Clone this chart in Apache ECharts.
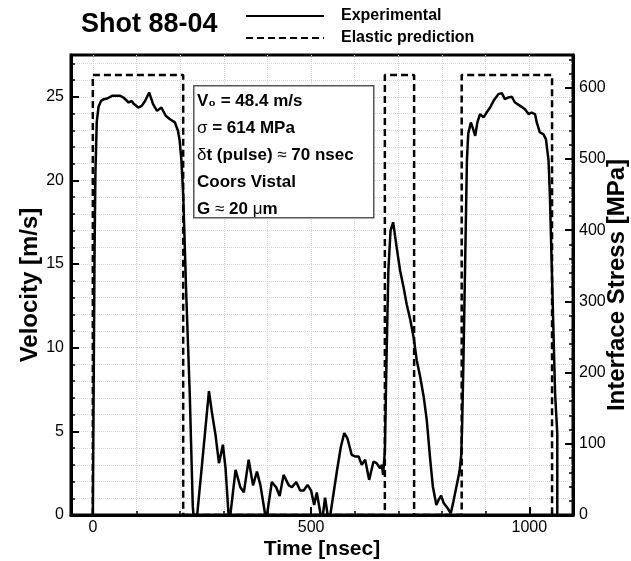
<!DOCTYPE html>
<html>
<head>
<meta charset="utf-8">
<title>Shot 88-04</title>
<script src="https://cdn.jsdelivr.net/npm/echarts@6/dist/echarts.min.js"></script>
<style>
  html, body { margin: 0; padding: 0; background: #fff; }
  #chart { width: 631px; height: 561px; }
</style>
</head>
<body>
<div id="chart"></div>
<script>
const FONT = '"Liberation Sans", Arial, sans-serif'

// measured trace: time [nsec] and particle velocity [m/s]
const expTime = [
  0, 2, 4, 6, 9, 13, 19, 25, 33, 44, 63, 70, 82, 89, 93, 104, 112, 120, 129, 138,
  147, 157, 167, 176, 188, 195, 199, 203, 207, 214, 222, 229, 234, 239, 253, 266, 273, 281, 289, 298,
  304, 311, 313, 315, 327, 338, 346, 357, 367, 376, 384, 395, 397, 399, 410, 420, 428, 437, 449, 456,
  466, 475, 483, 492, 500, 507, 513, 522, 527, 532, 538, 541, 544, 559, 568, 576, 583, 593, 601, 609,
  616, 624, 633, 643, 650, 658, 662, 665, 669, 673, 677, 682, 688, 696, 704, 712, 719, 727, 735, 742,
  750, 758, 765, 773, 779, 787, 792, 798, 804, 813, 820, 826, 833, 840, 844, 846, 849, 853, 857, 860,
  866, 870, 876, 881, 887, 895, 902, 910, 918, 929, 937, 944, 952, 960, 967, 979, 990, 998, 1005, 1013,
  1017, 1024, 1032, 1038, 1044, 1047, 1051, 1055, 1059, 1064, 1064
]
const expVelocity = [
  0, 8, 16, 20.5, 23.5, 24.4, 24.76, 24.86, 24.9, 25.06, 25.06, 24.96, 24.66, 24.76, 24.6, 24.36, 24.46, 24.76, 25.26, 24.56,
  24.16, 24.36, 23.87, 23.67, 23.47, 22.97, 22.37, 21.18, 19.19, 13.2, 7.26, 0.5, -1, 0, 3.8, 7.4, 6.1, 4.8, 3.1, 4.2,
  2.8, 0, -0.5, 0, 2.7, 1.66, 1.35, 3.3, 1.77, 2.6, 1.77, 0, -0.3, 0, 1.97, 1.66, 1.14, 2.4, 1.77, 1.66,
  1.97, 1.46, 1.46, 1.8, 1.46, 0.6, 1.35, 0, 0, 1.04, 0, -0.3, 0, 2.6, 4.05, 4.9, 4.6, 3.6, 3.5, 3.5,
  3.0, 3.3, 2.1, 3.2, 3.1, 2.8, 3.0, 2.4, 3.8, 9.6, 14.6, 17.0, 17.5, 16.0, 14.6, 13.6, 12.6, 11.7, 10.6, 9.25,
  8.25, 7.06, 5.67, 3.28, 1.69, 0.6, 0.9, 1.15, 0.7, 0.4, 0.1, 0.8, 1.7, 2.6, 3.6, 5.3, 9.2, 15.2, 21.2, 22.8,
  23.47, 23.17, 22.67, 23.47, 23.97, 23.77, 24.06, 24.36, 24.76, 25.16, 25.22, 24.86, 24.96, 25.0, 24.66, 24.46, 24.26, 23.97, 24.06, 23.97,
  23.47, 22.87, 22.77, 22.47, 21.18, 19.19, 15.2, 11.2, 7.26, 4.87, 0
]

// elastic prediction: square pulses
const elasticTime = [0, 0, 207, 207, 669, 669, 736, 736, 845, 845, 1052, 1052]
const elasticVelocity = [0, 26.3, 26.3, 0, 0, 26.3, 26.3, 0, 0, 26.3, 26.3, 0]

const timeLabels = [0, 500, 1000]
const timeMinor = [0, 100, 200, 300, 400, 500, 600, 700, 800, 900, 1000]
const velocityLabels = [0, 5, 10, 15, 20, 25]
const velocityMinor = [0, 1, 2, 3, 4, 5, 6, 7, 8, 9, 10, 11, 12, 13, 14, 15, 16, 17, 18, 19, 20, 21, 22, 23, 24, 25, 26, 27]
const stressLabels = [0, 100, 200, 300, 400, 500, 600]
const stressMinor = [
  0, 20, 40, 60, 80, 100, 120, 140, 160, 180, 200, 220, 240, 260, 280, 300, 320,
  340, 360, 380, 400, 420, 440, 460, 480, 500, 520, 540, 560, 580, 600, 620, 640
]

const infoLines = [
  'V\u2080 = 48.4 m/s',
  '{g|\u03c3} = 614 MPa',
  '{g|\u03b4}t (pulse) {g|\u2248} 70 nsec',
  'Coors Vistal',
  'G {g|\u2248} 20 {g|\u03bc}m'
]

const pairs = (xs, ys) => xs.map((x, i) => [x, ys[i]])

const black = { color: '#000', width: 3 }
const labelStyle = { fontFamily: FONT, fontSize: 16, color: '#000' }
const nameStyle = { fontFamily: FONT, fontSize: 21, fontWeight: 'bold', color: '#000' }
const sideNameStyle = { ...nameStyle, fontSize: 24 }
const dotted = { show: true, lineStyle: { color: '#d6d6d6', type: 'dotted', width: 1 } }
const plain = v => String(v)

const chart = echarts.init(document.getElementById('chart'))

chart.setOption({
  animation: false,
  backgroundColor: '#fff',
  title: {
    text: 'Shot 88-04',
    left: 76,
    top: 6,
    textStyle: { fontFamily: FONT, fontSize: 27, fontWeight: 'bold', color: '#000' }
  },
  legend: {
    orient: 'vertical',
    left: 240,
    top: 3,
    itemWidth: 78,
    itemHeight: 14,
    itemGap: 6,
    itemStyle: { opacity: 0 },
    textStyle: { fontFamily: FONT, fontSize: 16, fontWeight: 'bold', color: '#000', padding: [0, 0, 0, 12] },
    data: ['Experimental', 'Elastic prediction']
  },
  grid: {
    left: 71,
    right: 58,
    top: 55,
    bottom: 46,
    outerBoundsMode: 'none',
    show: true,
    borderColor: '#000',
    borderWidth: 3
  },
  xAxis: [
    {
      type: 'value',
      min: -50,
      max: 1100,
      position: 'bottom',
      name: 'Time [nsec]',
      nameLocation: 'middle',
      nameGap: 24,
      nameMoveOverlap: false,
      nameTextStyle: nameStyle,
      axisLine: { show: true, onZero: false, lineStyle: black },
      axisTick: { show: true, inside: true, length: 8, customValues: timeLabels, lineStyle: { color: '#000', width: 2 } },
      axisLabel: { ...labelStyle, customValues: timeLabels, margin: 5, formatter: plain },
      splitLine: { show: false }
    },
    {
      type: 'value',
      min: -50,
      max: 1100,
      minInterval: 100,
      maxInterval: 100,
      position: 'bottom',
      axisLine: { show: false, onZero: false },
      axisLabel: { show: false },
      axisTick: { show: true, inside: true, length: 4, customValues: timeMinor, lineStyle: { color: '#000', width: 1.5 } },
      splitLine: dotted
    }
  ],
  yAxis: [
    {
      type: 'value',
      min: 0,
      max: 27.5,
      position: 'left',
      name: 'Velocity [m/s]',
      nameLocation: 'middle',
      nameRotate: 90,
      nameGap: 29,
      nameMoveOverlap: false,
      nameTextStyle: sideNameStyle,
      axisLine: { show: true, onZero: false, lineStyle: black },
      axisTick: { show: true, inside: true, length: 8, customValues: velocityLabels, lineStyle: { color: '#000', width: 2 } },
      axisLabel: { ...labelStyle, customValues: velocityLabels, margin: 7 },
      splitLine: { show: false }
    },
    {
      type: 'value',
      min: 0,
      max: 27.5,
      minInterval: 1,
      maxInterval: 1,
      position: 'left',
      axisLine: { show: false, onZero: false },
      axisLabel: { show: false },
      axisTick: { show: true, inside: true, length: 4, customValues: velocityMinor, lineStyle: { color: '#000', width: 1.5 } },
      splitLine: dotted
    },
    {
      type: 'value',
      min: 0,
      max: 646,
      position: 'right',
      name: 'Interface Stress [MPa]',
      nameLocation: 'middle',
      nameRotate: 90,
      nameGap: 32,
      nameMoveOverlap: false,
      nameTextStyle: sideNameStyle,
      axisLine: { show: true, onZero: false, lineStyle: black },
      axisTick: { show: true, inside: true, length: 8, customValues: stressLabels, lineStyle: { color: '#000', width: 2 } },
      axisLabel: { ...labelStyle, customValues: stressLabels, margin: 6 },
      splitLine: { show: false }
    },
    {
      type: 'value',
      min: 0,
      max: 646,
      position: 'right',
      axisLine: { show: false, onZero: false },
      axisLabel: { show: false },
      axisTick: { show: true, inside: true, length: 4, customValues: stressMinor, lineStyle: { color: '#000', width: 1.5 } },
      splitLine: { show: false }
    }
  ],
  series: [
    {
      name: 'Experimental',
      type: 'line',
      xAxisIndex: 0,
      yAxisIndex: 0,
      data: pairs(expTime, expVelocity),
      symbol: 'none',
      lineStyle: { color: '#000', width: 2.5 },
      itemStyle: { color: '#000' },
      z: 4
    },
    {
      name: 'Elastic prediction',
      type: 'line',
      xAxisIndex: 0,
      yAxisIndex: 0,
      data: pairs(elasticTime, elasticVelocity),
      symbol: 'none',
      lineStyle: { color: '#000', width: 2.5, type: [7, 4] },
      itemStyle: { color: '#000' },
      z: 3
    }
  ],
  graphic: [
    {
      type: 'rect',
      left: 193,
      top: 85,
      z: 10,
      shape: { width: 180, height: 132 },
      style: { fill: '#fff', stroke: '#555', lineWidth: 1.5 }
    },
    {
      type: 'text',
      left: 197,
      top: 88,
      z: 11,
      style: {
        text: infoLines.join('\n'),
        fontFamily: FONT,
        fontSize: 17,
        fontWeight: 'bold',
        lineHeight: 27,
        fill: '#000',
        rich: {
          g: { fontFamily: FONT, fontSize: 17, fontWeight: 'normal', lineHeight: 27, fill: '#000' }
        }
      }
    }
  ]
})
</script>
</body>
</html>
